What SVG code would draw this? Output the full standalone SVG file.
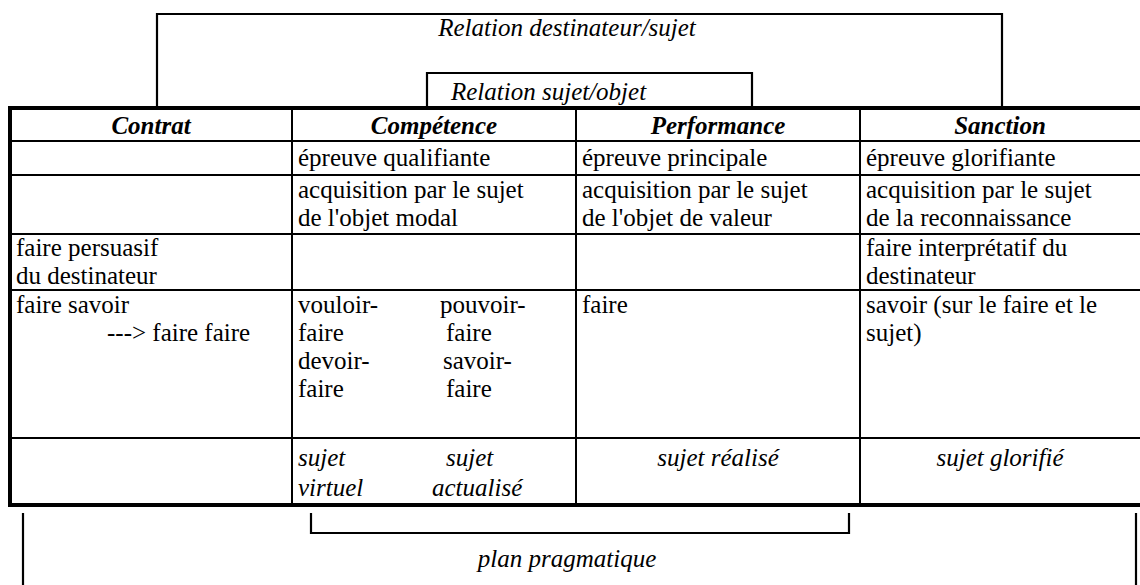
<svg xmlns="http://www.w3.org/2000/svg" width="1140" height="585" viewBox="0 0 1140 585">
<style>
text{font-family:'Liberation Serif','Times New Roman',serif;font-size:25px;fill:#000}
.i{font-style:italic}
.h{font-style:italic;font-weight:bold;text-anchor:middle}
.c{text-anchor:middle}
.br{fill:none;stroke:#000;stroke-width:2.2}
.grid{stroke:#000;stroke-width:2;fill:none}
.outer{fill:none;stroke:#000;stroke-width:4}
</style>
<rect width="1140" height="585" fill="#fff"/>
<g id="connectors">
<path class="br" d="M157,108 V14 H1002 V108"/>
<path class="br" d="M427,108 V73 H752 V108"/>
<path class="br" d="M23,513 V585"/>
<path class="br" d="M311,513 V533 H849 V513"/>
<path class="br" d="M1136,513 V585"/>
</g>
<g id="rel-destinateur"><text class="i c" x="567" y="36">Relation destinateur/sujet</text></g>
<g id="rel-sujet"><text class="i" x="451" y="100">Relation sujet/objet</text></g>
<g id="plan"><text class="i c" x="567" y="567">plan pragmatique</text></g>
<g id="table">
<path class="grid" d="M10,141 H1142 M10,175 H1142 M10,234 H1142 M10,290 H1142 M10,438 H1142 M292,108 V505 M576,108 V505 M860,108 V505"/>
<rect class="outer" x="10" y="108" width="1134" height="397"/>
</g>
<g id="col-contrat">
<text class="h" x="151" y="134">Contrat</text>
<text x="16" y="256">faire persuasif</text>
<text x="16" y="284">du destinateur</text>
<text x="16" y="313">faire savoir</text>
<text x="107" y="341">---&gt; faire faire</text>
</g>
<g id="col-competence">
<text class="h" x="434" y="134">Compétence</text>
<text x="298" y="166">épreuve qualifiante</text>
<text x="298" y="198">acquisition par le sujet</text>
<text x="298" y="226">de l'objet modal</text>
<text x="298" y="313">vouloir-</text><text x="440" y="313">pouvoir-</text>
<text x="298" y="341">faire</text><text x="446" y="341">faire</text>
<text x="298" y="369">devoir-</text><text x="443" y="369">savoir-</text>
<text x="298" y="397">faire</text><text x="446" y="397">faire</text>
<text class="i" x="298" y="466">sujet</text><text class="i" x="446" y="466">sujet</text>
<text class="i" x="298" y="496">virtuel</text><text class="i" x="432" y="496">actualisé</text>
</g>
<g id="col-performance">
<text class="h" x="718" y="134">Performance</text>
<text x="582" y="166">épreuve principale</text>
<text x="582" y="198">acquisition par le sujet</text>
<text x="582" y="226">de l'objet de valeur</text>
<text x="582" y="313">faire</text>
<text class="i c" x="718" y="466">sujet réalisé</text>
</g>
<g id="col-sanction">
<text class="h" x="1000" y="134">Sanction</text>
<text x="866" y="166">épreuve glorifiante</text>
<text x="866" y="198">acquisition par le sujet</text>
<text x="866" y="226">de la reconnaissance</text>
<text x="866" y="256">faire interprétatif du</text>
<text x="866" y="284">destinateur</text>
<text x="866" y="313">savoir (sur le faire et le</text>
<text x="866" y="341">sujet)</text>
<text class="i c" x="1000" y="466">sujet glorifié</text>
</g>
</svg>
